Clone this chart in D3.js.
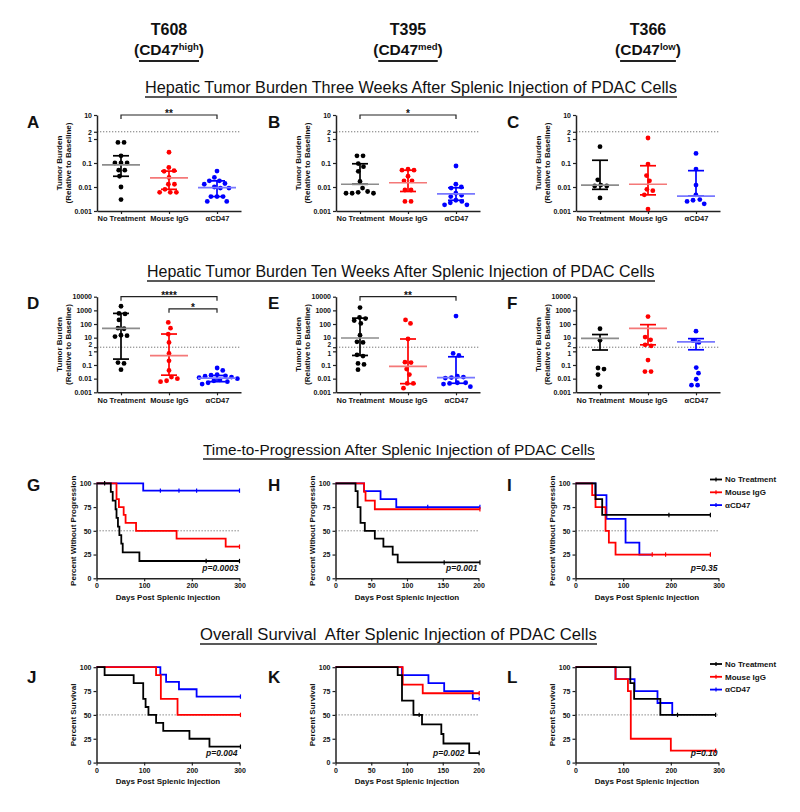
<!DOCTYPE html>
<html>
<head>
<meta charset="utf-8">
<script src="https://cdn.jsdelivr.net/npm/d3@7"></script>
<style>
body { margin: 0; background: #fff; }
svg text { font-family: "Liberation Sans", Arial, Helvetica, sans-serif; fill: #111; white-space: pre; }
</style>
</head>
<body>
<svg id="fig" width="800" height="812"></svg>
<script>
// ---- data ----
const groups = ["No Treatment", "Mouse IgG", "\u03b1CD47"];
const lines = ["T608", "T395", "T366"];
const lineSup = ["high", "med", "low"];
const sectionTitles = [
	"Hepatic Tumor Burden Three Weeks After Splenic Injection of PDAC Cells",
	"Hepatic Tumor Burden Ten Weeks After Splenic Injection of PDAC Cells",
	"Time-to-Progression After Splenic Injection of PDAC Cells",
	"Overall Survival  After Splenic Injection of PDAC Cells"
];
const panelLetters = ["A", "B", "C", "D", "E", "F", "G", "H", "I", "J", "K", "L"];

const ticks3wk = [0.001, 0.01, 0.1, 1, 2, 10];
const ticks10wk = [0.001, 0.01, 0.1, 1, 2, 10, 100, 1000, 10000];

// tumor burden values per group [No Treatment, Mouse IgG, aCD47]
const A_vals = [
	[0.72, 0.72, 0.2, 0.1, 0.1, 0.1, 0.05, 0.05, 0.028, 0.01, 0.003],
	[0.28, 0.065, 0.048, 0.045, 0.025, 0.013, 0.013, 0.008, 0.006, 0.006, 0.006],
	[0.046, 0.025, 0.018, 0.018, 0.014, 0.013, 0.01, 0.009, 0.009, 0.004, 0.004, 0.004, 0.0025, 0.0025]
];
const B_vals = [
	[0.2, 0.2, 0.095, 0.07, 0.045, 0.017, 0.009, 0.0065, 0.006, 0.0055, 0.0055, 0.0055],
	[0.055, 0.05, 0.05, 0.028, 0.018, 0.018, 0.0075, 0.0075, 0.0025, 0.0025],
	[0.075, 0.013, 0.01, 0.009, 0.0055, 0.0045, 0.004, 0.0028, 0.0025, 0.0022, 0.0018, 0.0018]
];
const C_vals = [
	[0.48, 0.02, 0.012, 0.011, 0.011, 0.0035],
	[1.1, 0.09, 0.03, 0.018, 0.008, 0.007, 0.0047, 0.0012],
	[0.25, 0.056, 0.012, 0.0047, 0.003, 0.0028, 0.0025, 0.002]
];
const D_vals = [
	[2000, 600, 550, 200, 50, 45, 15, 14, 12, 0.15, 0.13, 0.045],
	[130, 50, 18, 4.5, 0.7, 0.2, 0.04, 0.013, 0.01, 0.007, 0.006],
	[0.06, 0.04, 0.02, 0.018, 0.016, 0.015, 0.013, 0.012, 0.01, 0.008, 0.007, 0.006, 0.005, 0.004]
];
const E_vals = [
	[1600, 300, 250, 180, 110, 15, 5, 4.5, 0.55, 0.45, 0.13, 0.11, 0.045],
	[200, 110, 8, 0.16, 0.15, 0.05, 0.02, 0.0045, 0.0045, 0.002],
	[380, 0.7, 0.5, 0.015, 0.013, 0.012, 0.011, 0.005, 0.005, 0.0045, 0.004, 0.0026]
];
const F_vals = [
	[45, 6.5, 0.06, 0.05, 0.02, 0.0025],
	[350, 11, 7, 3, 2.5, 0.23, 0.033, 0.033],
	[30, 6, 4.5, 0.065, 0.025, 0.009, 0.0033, 0.0033]
];
// [centre, low, high] for each group
const A_stats = [[0.083, 0.028, 0.2], [0.024, 0.008, 0.046], [0.0095, 0.004, 0.018]];
const B_stats = [[0.013, 0.013, 0.093], [0.015, 0.0065, 0.05], [0.0052, 0.0028, 0.0093]];
const C_stats = [[0.012, 0.008, 0.13], [0.013, 0.0047, 0.077], [0.0042, 0.0042, 0.048]];
const D_stats = [[48, 0.27, 600], [0.48, 0.018, 18.5], [0.011, 0.006, 0.017]];
const E_stats = [[9.5, 0.5, 270], [0.08, 0.0043, 8], [0.012, 0.0046, 0.4]];
const F_stats = [[9, 1.25, 17], [48, 3, 90], [5, 1.3, 8.5]];
// significance brackets: [from group, to group, label, level]
const A_sig = [[0, 2, "**", 10]];
const B_sig = [[0, 2, "*", 10]];
const D_sig = [[0, 2, "****", 10000], [1, 2, "*", 1300]];
const E_sig = [[0, 2, "**", 10000]];

// survival steps: [day, percent after the drop]
const G_black = [[30, 90.9], [34, 81.8], [40, 72.7], [42, 63.6], [45, 54.5], [48, 45.5], [52, 36.4], [55, 27.3], [90, 18.2]];
const G_red = [[42, 83.3], [47, 75], [57, 66.7], [61, 58.3], [83, 50], [168, 41.7], [271, 33.3]];
const G_blue = [[98, 92.3]];
const H_black = [[28, 91.7], [31, 75], [35, 58.3], [41, 50], [55, 41.7], [67, 33.3], [80, 25], [87, 16.7]];
const H_red = [[40, 90.9], [42, 81.8], [55, 72.7]];
const H_blue = [[40, 91.7], [63, 83.3], [85, 75]];
const I_black = [[42, 83.3], [56, 66.7]];
const I_red = [[35, 87.5], [42, 75], [63, 50], [70, 37.5], [84, 25]];
const I_blue = [[42, 87.5], [65, 62.5], [105, 37.5], [134, 25]];
const J_black = [[17, 91.7], [78, 83.3], [98, 66.7], [103, 58.3], [109, 50], [125, 41.7], [140, 33.3], [195, 25], [237, 16.7]];
const J_red = [[125, 91.7], [135, 66.7], [170, 50]];
const J_blue = [[134, 92.3], [146, 84.6], [173, 76.9], [210, 69.2]];
const K_black = [[87, 91.7], [93, 65], [109, 50], [121, 40], [148, 30], [151, 20], [187, 10]];
const K_red = [[94, 81.8], [122, 72.7]];
const K_blue = [[93, 91.7], [130, 83.3], [152, 75], [192, 66.7]];
const L_black = [[115, 83.3], [123, 66.7], [178, 50]];
const L_red = [[84, 87.5], [110, 75], [116, 25], [200, 12.5]];
const L_blue = [[84, 87.5], [124, 75], [172, 62.5], [203, 50]];
// last day of follow-up and censored days, per group
const G_end = [300, 300, 300], G_cens = [[17, 230, 300], [300], [134, 173, 210, 300]];
const H_end = [202, 202, 202], H_cens = [[152, 202], [202], [129, 202]];
const I_end = [283, 283, 160], I_cens = [[196, 283], [161, 189, 283], []];
const J_end = [302, 302, 302], J_cens = [[302], [302], [302]];
const K_end = [201, 201, 201], K_cens = [[117, 201], [201], [201]];
const L_end = [294, 294, 210], L_cens = [[214, 294], [294], []];
const pValues = ["p=0.0003", "p=0.001", "p=0.35", "p=0.004", "p=0.002", "p=0.10"];

// ---- styles / layout ----
const colors = ["#000000", "#ff0000", "#0000ff"];
const tints = ["#8c8c8c", "#f47878", "#7878ff"];
const colLeft = [97, 336, 576];
const colWidth = 144;
const letterX = [27, 268, 507];
const letterY = [128, 309, 491, 683];
const pInset = [1, 1, 1, 2, 14, 1];

const svg = d3.select("#fig");
svg.append("rect").attr("width", 800).attr("height", 812).attr("fill", "#fff");

function styleAxis(sel, fs) {
	sel.attr("font-family", null).attr("font-size", null);
	sel.select(".domain").attr("stroke", "#222").attr("stroke-width", 1.5);
	sel.selectAll(".tick line").attr("stroke", "#222").attr("stroke-width", 1.2);
	sel.selectAll(".tick text")
		.attr("font-weight", "bold")
		.attr("font-size", fs)
		.attr("fill", "#111");
}

// spread points sideways so they do not overlap
function swarm(vals, y, r, gap) {
	const D = 2 * r + gap;
	const pts = vals.map(v => ({ v: v, py: y(v), dx: 0 })).sort((a, b) => a.py - b.py);
	const placed = [];
	pts.forEach(p => {
		const near = placed.filter(q => Math.abs(q.py - p.py) < D);
		let cands = [0];
		near.forEach(q => {
			const h = Math.sqrt(D * D - (q.py - p.py) * (q.py - p.py));
			cands.push(q.dx + h, q.dx - h);
		});
		cands.sort((a, b) => Math.abs(a) - Math.abs(b));
		for (const c of cands) {
			if (near.every(q => (q.dx - c) * (q.dx - c) + (q.py - p.py) * (q.py - p.py) >= D * D - 0.01)) {
				p.dx = c;
				break;
			}
		}
		placed.push(p);
	});
	// centre each cluster
	let cluster = [];
	const flush = () => {
		if (cluster.length) {
			const m = d3.mean(cluster, d => d.dx);
			cluster.forEach(d => d.dx -= m);
		}
		cluster = [];
	};
	pts.forEach((p, i) => {
		if (i > 0 && p.py - pts[i - 1].py >= D) flush();
		cluster.push(p);
	});
	flush();
	return pts;
}

// ---- header ----
lines.forEach((name, i) => {
	const cx = colLeft[i] + colWidth / 2;
	svg.append("text").attr("x", cx).attr("y", 35)
		.attr("text-anchor", "middle").attr("font-weight", "bold").attr("font-size", 16)
		.text(name);
	const t = svg.append("text").attr("x", cx).attr("y", 55)
		.attr("text-anchor", "middle").attr("font-weight", "bold").attr("font-size", 15.5);
	t.append("tspan").text("(CD47");
	t.append("tspan").attr("font-size", 9.5).attr("dy", -5.5).text(lineSup[i]);
	t.append("tspan").attr("dy", 5.5).text(")");
	const bb = t.node().getBBox();
	svg.append("line")
		.attr("x1", bb.x + 5).attr("x2", bb.x + bb.width - 5)
		.attr("y1", 61).attr("y2", 61)
		.attr("stroke", "#222").attr("stroke-width", 2);
});

// ---- section titles ----
const titleY = [93, 277, 455, 640];
const titleSpan = [[145, 677], [147, 655], [203, 595], [200, 597]];
sectionTitles.forEach((s, i) => {
	const t = svg.append("text").attr("y", titleY[i]).attr("font-size", 16).text(s);
	const len = t.node().getComputedTextLength();
	const target = titleSpan[i][1] - titleSpan[i][0];
	t.attr("font-size", 16 * target / len).attr("x", titleSpan[i][0]);
	svg.append("line")
		.attr("x1", titleSpan[i][0]).attr("x2", titleSpan[i][1])
		.attr("y1", titleY[i] + 4).attr("y2", titleY[i] + 4)
		.attr("stroke", "#222").attr("stroke-width", 1.6);
});

// ---- panel letters ----
panelLetters.forEach((L, i) => {
	svg.append("text")
		.attr("x", letterX[i % 3]).attr("y", letterY[Math.floor(i / 3)])
		.attr("font-weight", "bold").attr("font-size", 17)
		.text(L);
});

// ---- scatter (tumor burden) panels ----
const scRows = [
	{ dom: [0.001, 10], range: [211, 115], ticks: ticks3wk },
	{ dom: [0.001, 10000], range: [392.3, 296.7], ticks: ticks10wk }
];
const scatterPanels = [
	{ vals: A_vals, stats: A_stats, sig: A_sig, col: 0, row: 0 },
	{ vals: B_vals, stats: B_stats, sig: B_sig, col: 1, row: 0 },
	{ vals: C_vals, stats: C_stats, sig: [], col: 2, row: 0 },
	{ vals: D_vals, stats: D_stats, sig: D_sig, col: 0, row: 1 },
	{ vals: E_vals, stats: E_stats, sig: E_sig, col: 1, row: 1 },
	{ vals: F_vals, stats: F_stats, sig: [], col: 2, row: 1 }
];

function drawScatter(p) {
	const row = scRows[p.row];
	const x0 = colLeft[p.col], x1 = x0 + colWidth;
	const x = d3.scalePoint().domain(groups).range([x0, x1]).padding(0.5);
	const y = d3.scaleLog().domain(row.dom).range(row.range);
	const g = svg.append("g");

	// reference line at 2
	g.append("line").attr("x1", x0).attr("x2", x1).attr("y1", y(2)).attr("y2", y(2))
		.attr("stroke", "#777").attr("stroke-width", 1).attr("stroke-dasharray", "1.3,1.7");

	const ya = g.append("g").attr("transform", `translate(${x0},0)`)
		.call(d3.axisLeft(y).tickValues(row.ticks).tickFormat(d => String(d)).tickSize(3).tickPadding(2).tickSizeOuter(0))
		.call(s => styleAxis(s, 7));
	if (p.row === 1) {
		// "2" and "1" sit very close on the long axis: pull them apart slightly
		ya.selectAll(".tick text").attr("font-size", d => (d === 1 || d === 2) ? 6.5 : 7)
			.attr("dy", d => d === 2 ? "-0.05em" : d === 1 ? "0.7em" : "0.32em");
	}
	g.append("g").attr("transform", `translate(0,${row.range[0]})`)
		.call(d3.axisBottom(x).tickSize(3).tickPadding(2).tickSizeOuter(0))
		.call(s => styleAxis(s, 7.5));

	// y title
	const my = (row.range[0] + row.range[1]) / 2;
	[["Tumor Burden", 38], ["(Relative to Baseline)", 29]].forEach(([txt, off]) => {
		g.append("text")
			.attr("transform", `translate(${x0 - off},${my}) rotate(-90)`)
			.attr("text-anchor", "middle").attr("dy", "0.35em")
			.attr("font-weight", "bold").attr("font-size", 8)
			.text(txt);
	});

	groups.forEach((grp, i) => {
		const cx = x(grp);
		const pts = swarm(p.vals[i], y, 2.4, 1.3);
		g.selectAll(null).data(pts).enter().append("circle")
			.attr("cx", d => cx + d.dx).attr("cy", d => d.py).attr("r", 2.4)
			.attr("fill", colors[i]);
		const [c, lo, hi] = p.stats[i];
		const eb = g.append("g").attr("stroke", colors[i]).attr("stroke-width", 1.7);
		eb.append("line").attr("x1", cx).attr("x2", cx).attr("y1", y(lo)).attr("y2", y(hi));
		eb.append("line").attr("x1", cx - 8).attr("x2", cx + 8).attr("y1", y(lo)).attr("y2", y(lo));
		eb.append("line").attr("x1", cx - 8).attr("x2", cx + 8).attr("y1", y(hi)).attr("y2", y(hi));
		g.append("line").attr("x1", cx - 19).attr("x2", cx + 19).attr("y1", y(c)).attr("y2", y(c))
			.attr("stroke", tints[i]).attr("stroke-width", 1.7);
	});

	p.sig.forEach(b => {
		const xa = x(groups[b[0]]), xb = x(groups[b[1]]), yy = y(b[3]);
		g.append("path").attr("d", `M${xa},${yy + 4}V${yy}H${xb}V${yy + 4}`)
			.attr("fill", "none").attr("stroke", "#222").attr("stroke-width", 1.2);
		g.append("text").attr("x", (xa + xb) / 2).attr("y", yy + 2)
			.attr("text-anchor", "middle").attr("font-weight", "bold").attr("font-size", 10)
			.text(b[2]);
	});
}
scatterPanels.forEach(drawScatter);

// ---- Kaplan-Meier panels ----
const kmRows = [
	{ range: [578.3, 483.3], title: "Percent Without Progression" },
	{ range: [762.6, 667.2], title: "Percent Survival" }
];
const kmPanels = [
	{ curves: [G_black, G_red, G_blue], end: G_end, cens: G_cens, xmax: 300, col: 0, row: 0 },
	{ curves: [H_black, H_red, H_blue], end: H_end, cens: H_cens, xmax: 200, col: 1, row: 0 },
	{ curves: [I_black, I_red, I_blue], end: I_end, cens: I_cens, xmax: 300, col: 2, row: 0, legend: true },
	{ curves: [J_black, J_red, J_blue], end: J_end, cens: J_cens, xmax: 300, col: 0, row: 1 },
	{ curves: [K_black, K_red, K_blue], end: K_end, cens: K_cens, xmax: 200, col: 1, row: 1 },
	{ curves: [L_black, L_red, L_blue], end: L_end, cens: L_cens, xmax: 300, col: 2, row: 1, legend: true }
];

function survivalAt(steps, day) {
	let v = 100;
	steps.forEach(s => { if (s[0] <= day) v = s[1]; });
	return v;
}

function drawKM(p, idx) {
	const row = kmRows[p.row];
	const x0 = colLeft[p.col] - 0.5, x1 = x0 + 143;
	const x = d3.scaleLinear().domain([0, p.xmax]).range([x0, x1]);
	const y = d3.scaleLinear().domain([0, 100]).range(row.range);
	const g = svg.append("g");

	g.append("line").attr("x1", x(0)).attr("x2", x(p.xmax)).attr("y1", y(50)).attr("y2", y(50))
		.attr("stroke", "#777").attr("stroke-width", 1).attr("stroke-dasharray", "1.3,1.7");

	const xt = p.xmax === 300 ? [0, 100, 200, 300] : [0, 50, 100, 150, 200];
	g.append("g").attr("transform", `translate(${x0},0)`)
		.call(d3.axisLeft(y).tickValues([0, 25, 50, 75, 100]).tickSize(3).tickPadding(2).tickSizeOuter(0))
		.call(s => styleAxis(s, 7));
	g.append("g").attr("transform", `translate(0,${row.range[0]})`)
		.call(d3.axisBottom(x).tickValues(xt).tickSize(3).tickPadding(2).tickSizeOuter(0))
		.call(s => styleAxis(s, 7));

	g.append("text")
		.attr("transform", `translate(${x0 - 23},${(row.range[0] + row.range[1]) / 2}) rotate(-90)`)
		.attr("text-anchor", "middle").attr("dy", "0.35em")
		.attr("font-weight", "bold").attr("font-size", 8)
		.text(row.title);
	g.append("text").attr("x", (x0 + x1) / 2).attr("y", row.range[0] + 21.5)
		.attr("text-anchor", "middle").attr("font-weight", "bold").attr("font-size", 8)
		.text("Days Post Splenic Injection");

	const line = d3.line().x(d => x(d[0])).y(d => y(d[1])).curve(d3.curveStepAfter);
	// draw blue first, black last (black sits on top)
	[2, 1, 0].forEach(i => {
		const steps = p.curves[i];
		const last = steps.length ? steps[steps.length - 1][1] : 100;
		const pts = [[0, 100]].concat(steps, [[p.end[i], last]]);
		g.append("path").attr("d", line(pts))
			.attr("fill", "none").attr("stroke", colors[i]).attr("stroke-width", 1.8);
		p.cens[i].forEach(day => {
			const yy = y(survivalAt(steps, day));
			g.append("line").attr("x1", x(day)).attr("x2", x(day)).attr("y1", yy - 2.2).attr("y2", yy + 2.2)
				.attr("stroke", colors[i]).attr("stroke-width", 1.2);
		});
	});

	g.append("text").attr("x", x1 - pInset[idx]).attr("y", row.range[0] - 7)
		.attr("text-anchor", "end").attr("font-weight", "bold").attr("font-style", "italic")
		.attr("font-size", 8.5)
		.text(pValues[idx]);

	if (p.legend) {
		const ly = p.row === 0 ? 479.5 : 664;
		groups.forEach((grp, i) => {
			const yy = ly + i * 12.8;
			g.append("line").attr("x1", 710).attr("x2", 722).attr("y1", yy).attr("y2", yy)
				.attr("stroke", colors[i]).attr("stroke-width", 1.8);
			g.append("line").attr("x1", 716).attr("x2", 716).attr("y1", yy - 2).attr("y2", yy + 2)
				.attr("stroke", colors[i]).attr("stroke-width", 1.2);
			g.append("text").attr("x", 725).attr("y", yy).attr("dy", "0.35em")
				.attr("font-weight", "bold").attr("font-size", 8)
				.text(grp);
		});
	}
}
kmPanels.forEach(drawKM);
</script>
</body>
</html>
